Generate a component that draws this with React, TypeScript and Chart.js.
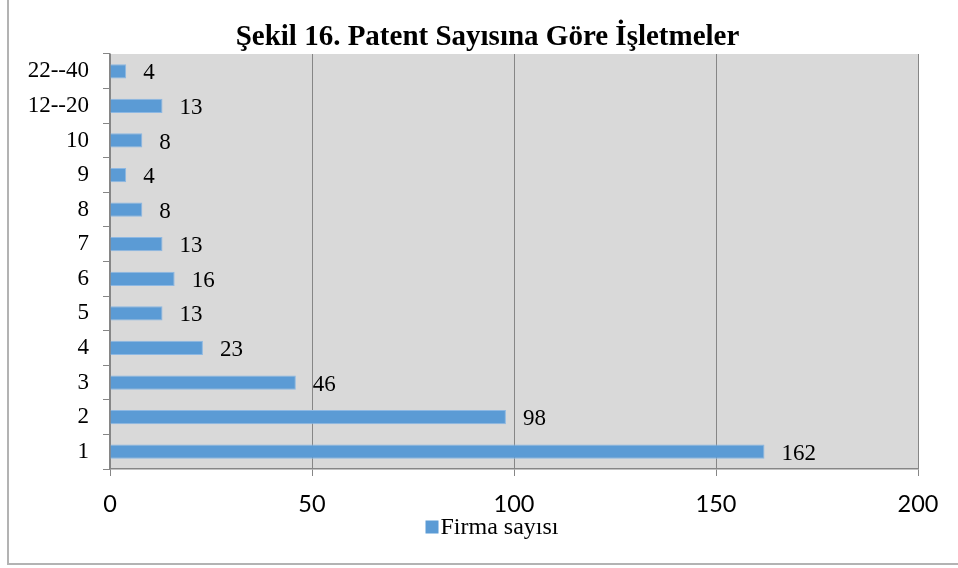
import React, { useEffect, useRef } from "react";
import { Chart, registerables } from "chart.js";

Chart.register(...registerables);

const categories = ["1", "2", "3", "4", "5", "6", "7", "8", "9", "10", "12--20", "22--40"];
const firmCounts = [162, 98, 46, 23, 13, 16, 13, 8, 4, 8, 13, 4];
const xTicks = [0, 50, 100, 150, 200];
const titleText = "Şekil 16. Patent Sayısına Göre İşletmeler";
const seriesName = "Firma sayısı";

const SERIF = "'Liberation Serif', 'Times New Roman', serif";
const SANS = "Lato, 'Open Sans', sans-serif";
const BAR = "#5b9bd5";

const plotBg = {
  id: "plotBg",
  beforeDraw(chart: any) {
    const { ctx, chartArea } = chart;
    ctx.save();
    ctx.fillStyle = "#d9d9d9";
    ctx.fillRect(chartArea.left, chartArea.top, chartArea.right - chartArea.left, chartArea.bottom - chartArea.top);
    ctx.restore();
  },
};

const valueLabels = {
  id: "valueLabels",
  afterDatasetsDraw(chart: any) {
    const { ctx } = chart;
    const meta = chart.getDatasetMeta(0);
    const data = chart.data.datasets[0].data;
    ctx.save();
    ctx.font = `23px ${SERIF}`;
    ctx.fillStyle = "#000";
    ctx.textAlign = "left";
    ctx.textBaseline = "middle";
    meta.data.forEach((el: any, i: number) => {
      ctx.fillText(String(data[i]), el.x + 17, el.y + 2);
    });
    ctx.restore();
  },
};

const titleAndLegend = {
  id: "titleAndLegend",
  afterDraw(chart: any) {
    const { ctx, chartArea } = chart;
    ctx.save();
    // title
    ctx.font = `bold 29px ${SERIF}`;
    ctx.fillStyle = "#000";
    ctx.textAlign = "center";
    ctx.textBaseline = "alphabetic";
    ctx.fillText(titleText, (chart.width + 17) / 2, chartArea.top - 9);
    // legend
    ctx.font = `24px ${SERIF}`;
    const tw = ctx.measureText(seriesName).width;
    const box = 13;
    const gap = 2;
    const total = box + gap + tw;
    const x0 = (chart.width + 26 - total) / 2;
    const yc = chartArea.bottom + 58;
    ctx.fillStyle = BAR;
    ctx.fillRect(x0, yc - box / 2, box, box);
    ctx.fillStyle = "#000";
    ctx.textAlign = "left";
    ctx.textBaseline = "middle";
    ctx.fillText(seriesName, x0 + box + gap, yc + 1);
    ctx.restore();
  },
};

export default function App() {
  const ref = useRef<HTMLCanvasElement>(null);
  useEffect(() => {
    if (!ref.current) return;
    const chart = new Chart(ref.current, {
      type: "bar",
      data: {
        labels: categories,
        datasets: [
          {
            label: seriesName,
            data: firmCounts,
            backgroundColor: BAR,
            borderColor: "#8db8e3",
            borderWidth: 1,
            barPercentage: 0.82,
            categoryPercentage: 0.5,
          },
        ],
      },
      options: {
        indexAxis: "y",
        animation: false,
        responsive: false,
        layout: { padding: { left: 14, right: 40, top: 54, bottom: 42 } },
        scales: {
          x: {
            min: 0,
            max: 200,
            afterBuildTicks: (axis: any) => {
              axis.ticks = xTicks.map((v) => ({ value: v }));
            },
            afterFit: (axis: any) => {
              axis.height = 57;
            },
            grid: { color: "#868686", lineWidth: 1, tickLength: 7, drawOnChartArea: true },
            border: { display: true, color: "#868686", width: 1.5 },
            ticks: { color: "#000", font: { family: SANS, size: 23.5 }, padding: 14 },
          },
          y: {
            reverse: true,
            afterFit: (axis: any) => {
              axis.width = 96;
            },
            grid: { drawOnChartArea: false, color: "#868686", tickLength: 7, offset: true },
            border: { display: true, color: "#868686", width: 1.5 },
            ticks: { color: "#000", font: { family: SERIF, size: 23 }, padding: 14 },
          },
        },
        plugins: {
          title: { display: false },
          legend: { display: false },
          tooltip: { enabled: false },
        },
      },
      plugins: [plotBg, valueLabels, titleAndLegend],
    });
    return () => chart.destroy();
  }, []);

  return (
    <div style={{ position: "fixed", left: 0, top: 0, width: 958, height: 568, background: "#fff" }}>
      <div
        style={{
          position: "absolute",
          left: 7,
          top: 0,
          width: 951,
          height: 563,
          borderLeft: "2px solid #b3b3b3",
          borderBottom: "2px solid #b3b3b3",
        }}
      />
      <canvas ref={ref} width={958} height={568} style={{ position: "absolute", left: 0, top: 0 }} />
    </div>
  );
}
